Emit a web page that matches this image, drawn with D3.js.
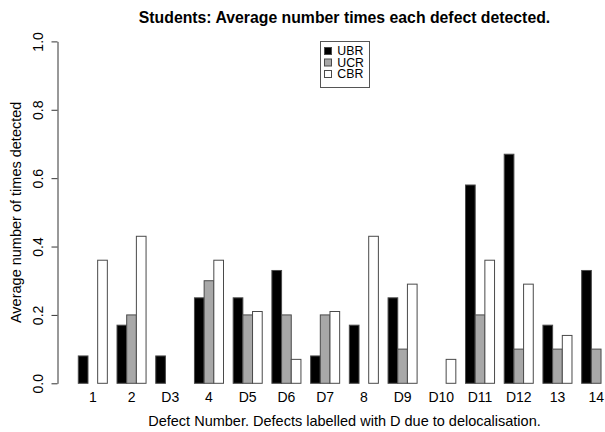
<!DOCTYPE html>
<html>
<head>
<meta charset="utf-8">
<script src="https://cdn.jsdelivr.net/npm/d3@7"></script>
<style>
  html, body { margin: 0; padding: 0; background: #fff; }
  svg { display: block; font-family: "Liberation Sans", Arial, Helvetica, sans-serif; }
</style>
</head>
<body>
<svg id="chart" width="605" height="432"></svg>
<script>
const categories = ["1","2","D3","4","D5","D6","D7","8","D9","D10","D11","D12","13","14"];
const seriesNames = ["UBR","UCR","CBR"];
const seriesColors = ["#000000","#a8a8a8","#ffffff"];
const ubr = [0.08,0.17,0.08,0.25,0.25,0.33,0.08,0.17,0.25,0.00,0.58,0.67,0.17,0.33];
const ucr = [0.00,0.20,0.00,0.30,0.20,0.20,0.20,0.00,0.10,0.00,0.20,0.10,0.10,0.10];
const cbr = [0.36,0.43,0.00,0.36,0.21,0.07,0.21,0.43,0.29,0.07,0.36,0.29,0.14,0.00];
const yTicks = [0,0.2,0.4,0.6,0.8,1.0];
const titleText = "Students: Average number times each defect detected.";
const xLabel = "Defect Number. Defects labelled with D due to delocalisation.";
const yLabel = "Average number of times detected";

const series = [ubr, ucr, cbr];
const svg = d3.select("#chart");

// R-style barplot units: each bar width 1, one unit gap between groups
const nBar = series.length;
const groupUnits = nBar + 1;
const uMin = 1, uMax = categories.length * groupUnits;
const ext = (uMax - uMin) * 0.04;
const plotLeft = 57, plotRight = 632;
const x = d3.scaleLinear().domain([uMin - ext, uMax + ext]).range([plotLeft, plotRight]);
const y = d3.scaleLinear().domain([0, 1]).range([383.3, 41.4]);
const axisFont = 14;

const bars = [];
categories.forEach((c, i) => {
  series.forEach((s, j) => {
    bars.push({cat: c, j, v: s[i], u: 1 + i * groupUnits + j});
  });
});

svg.append("g").selectAll("rect").data(bars).join("rect")
  .attr("x", d => x(d.u))
  .attr("width", d => x(d.u + 1) - x(d.u))
  .attr("y", d => y(d.v))
  .attr("height", d => y(0) - y(d.v))
  .attr("fill", d => seriesColors[d.j])
  .attr("stroke", "#4a4a4a")
  .attr("stroke-width", 1);

// Category labels
svg.append("g").selectAll("text").data(categories).join("text")
  .attr("x", (d, i) => x(1 + i * groupUnits + nBar / 2))
  .attr("y", 402)
  .attr("text-anchor", "middle")
  .attr("font-size", axisFont)
  .text(d => d);

// Y axis
const yAxis = svg.append("g")
  .attr("transform", `translate(${plotLeft + 0.5},0)`)
  .call(d3.axisLeft(y).tickValues(yTicks).tickFormat(d3.format(".1f")).tickSize(6).tickSizeOuter(0));
yAxis.select(".domain").attr("stroke", "#333");
yAxis.selectAll(".tick line").attr("stroke", "#333");
yAxis.selectAll(".tick text")
  .attr("x", null).attr("dy", "0.35em")
  .attr("transform", "translate(-19.5,0) rotate(-90)")
  .attr("text-anchor", "middle")
  .attr("fill", "#000")
  .attr("font-size", axisFont)
  .attr("font-family", "Liberation Sans, Arial, Helvetica, sans-serif");

// Title
svg.append("text")
  .attr("x", (plotLeft + plotRight) / 2)
  .attr("y", 22.5)
  .attr("text-anchor", "middle")
  .attr("font-weight", "bold")
  .attr("font-size", 15.8)
  .text(titleText);

// X label
svg.append("text")
  .attr("x", (plotLeft + plotRight) / 2)
  .attr("y", 426)
  .attr("text-anchor", "middle")
  .attr("font-size", 14.5)
  .text(xLabel);

// Y label
svg.append("text")
  .attr("transform", `translate(21,${(y(0) + y(1)) / 2}) rotate(-90)`)
  .attr("text-anchor", "middle")
  .attr("font-size", 14.5)
  .text(yLabel);

// Legend
const lg = svg.append("g");
lg.append("rect")
  .attr("x", 320.5).attr("y", 41.5).attr("width", 49).attr("height", 46)
  .attr("fill", "#fff").attr("stroke", "#555").attr("stroke-width", 1);
seriesNames.forEach((n, j) => {
  const cy = 51 + j * 11.5;
  lg.append("rect")
    .attr("x", 324.5).attr("y", cy - 3.5).attr("width", 7).attr("height", 7)
    .attr("fill", seriesColors[j]).attr("stroke", "#4a4a4a").attr("stroke-width", 1);
  lg.append("text")
    .attr("x", 337.3).attr("y", cy + 4.4)
    .attr("font-size", 12.3)
    .text(n);
});
</script>
</body>
</html>
